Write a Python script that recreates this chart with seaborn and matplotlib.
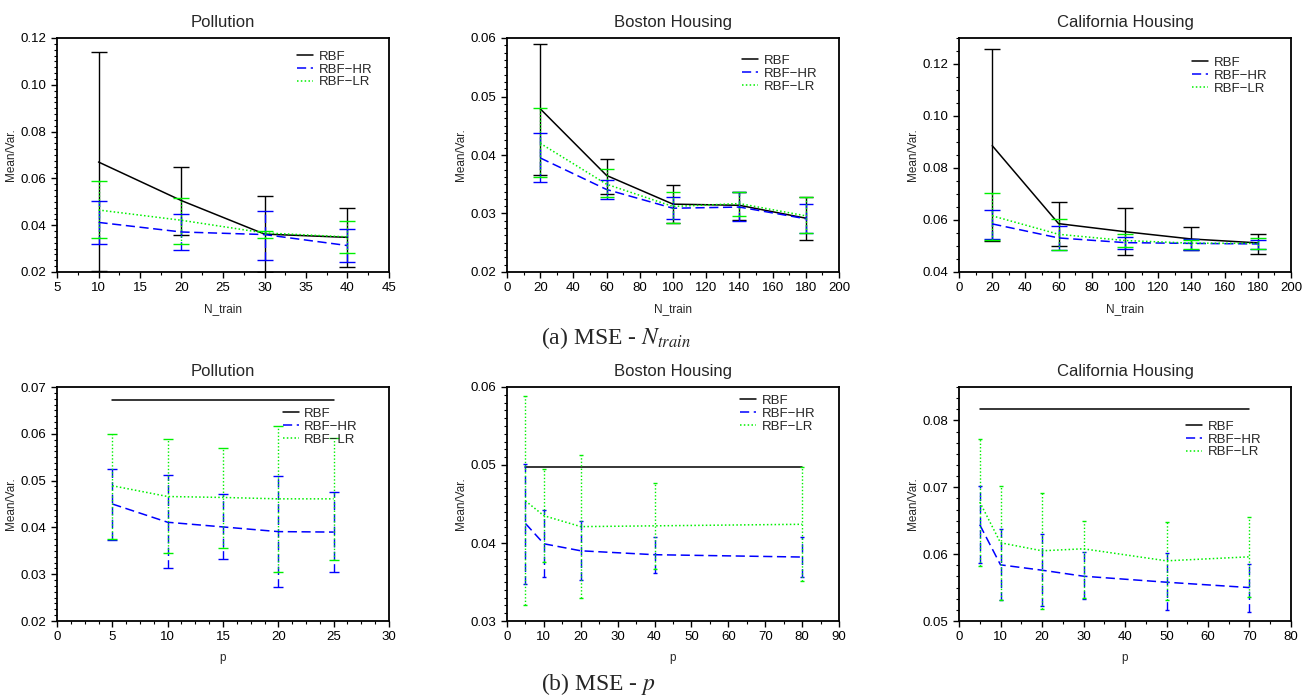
import matplotlib
matplotlib.use("Agg")
import matplotlib.pyplot as plt
import seaborn as sns
import numpy as np
from matplotlib.ticker import AutoMinorLocator, FormatStrFormatter

# --- (a) MSE vs N_train ---
poll_n = [10, 20, 30, 40]
poll_n_rbf = [0.0670, 0.0505, 0.0362, 0.0348]
poll_n_rbf_lo = [0.0206, 0.0357, 0.0200, 0.0223]
poll_n_rbf_hi = [0.1139, 0.0647, 0.0523, 0.0473]
poll_n_hr = [0.0412, 0.0371, 0.0360, 0.0313]
poll_n_hr_lo = [0.0321, 0.0295, 0.0251, 0.0243]
poll_n_hr_hi = [0.0502, 0.0448, 0.0462, 0.0382]
poll_n_lr = [0.0465, 0.0421, 0.0367, 0.0350]
poll_n_lr_lo = [0.0345, 0.0320, 0.0345, 0.0281]
poll_n_lr_hi = [0.0587, 0.0516, 0.0377, 0.0418]

bos_n = [20, 60, 100, 140, 180]
bos_n_rbf = [0.0479, 0.0365, 0.0316, 0.0314, 0.0292]
bos_n_rbf_lo = [0.0366, 0.0334, 0.0283, 0.0289, 0.0255]
bos_n_rbf_hi = [0.0590, 0.0394, 0.0348, 0.0337, 0.0328]
bos_n_hr = [0.0395, 0.0341, 0.0309, 0.0311, 0.0291]
bos_n_hr_lo = [0.0353, 0.0325, 0.0291, 0.0287, 0.0266]
bos_n_hr_hi = [0.0438, 0.0357, 0.0328, 0.0336, 0.0316]
bos_n_lr = [0.0420, 0.0350, 0.0312, 0.0317, 0.0296]
bos_n_lr_lo = [0.0362, 0.0329, 0.0283, 0.0296, 0.0267]
bos_n_lr_hi = [0.0480, 0.0376, 0.0337, 0.0337, 0.0328]

cal_n = [20, 60, 100, 140, 180]
cal_n_rbf = [0.0886, 0.0586, 0.0555, 0.0527, 0.0512]
cal_n_rbf_lo = [0.0521, 0.0499, 0.0465, 0.0484, 0.0469]
cal_n_rbf_hi = [0.1257, 0.0670, 0.0647, 0.0572, 0.0546]
cal_n_hr = [0.0585, 0.0531, 0.0513, 0.0510, 0.0508]
cal_n_hr_lo = [0.0528, 0.0484, 0.0488, 0.0485, 0.0488]
cal_n_hr_hi = [0.0637, 0.0578, 0.0536, 0.0526, 0.0523]
cal_n_lr = [0.0616, 0.0545, 0.0521, 0.0511, 0.0510]
cal_n_lr_lo = [0.0523, 0.0484, 0.0498, 0.0487, 0.0488]
cal_n_lr_hi = [0.0702, 0.0605, 0.0545, 0.0524, 0.0532]

# --- (b) MSE vs p ---
poll_p = [5, 10, 15, 20, 25]
poll_p_rbf = [0.0673, 0.0673, 0.0673, 0.0673, 0.0673]
poll_p_hr = [0.0450, 0.0411, 0.0401, 0.0391, 0.0390]
poll_p_hr_lo = [0.0374, 0.0313, 0.0333, 0.0273, 0.0304]
poll_p_hr_hi = [0.0524, 0.0511, 0.0471, 0.0510, 0.0476]
poll_p_lr = [0.0489, 0.0466, 0.0464, 0.0461, 0.0461]
poll_p_lr_lo = [0.0376, 0.0345, 0.0357, 0.0304, 0.0331]
poll_p_lr_hi = [0.0599, 0.0589, 0.0569, 0.0616, 0.0592]

bos_p = [5, 10, 20, 40, 80]
bos_p_rbf = [0.0497, 0.0497, 0.0497, 0.0497, 0.0497]
bos_p_hr = [0.0425, 0.0399, 0.0390, 0.0385, 0.0382]
bos_p_hr_lo = [0.0348, 0.0356, 0.0352, 0.0362, 0.0356]
bos_p_hr_hi = [0.0501, 0.0442, 0.0428, 0.0408, 0.0408]
bos_p_lr = [0.0454, 0.0435, 0.0421, 0.0422, 0.0424]
bos_p_lr_lo = [0.0321, 0.0376, 0.0329, 0.0367, 0.0351]
bos_p_lr_hi = [0.0589, 0.0495, 0.0513, 0.0477, 0.0497]

cal_p = [5, 10, 20, 30, 50, 70]
cal_p_rbf = [0.0817, 0.0817, 0.0817, 0.0817, 0.0817, 0.0817]
cal_p_hr = [0.0644, 0.0584, 0.0576, 0.0567, 0.0558, 0.0550]
cal_p_hr_lo = [0.0587, 0.0532, 0.0522, 0.0533, 0.0517, 0.0513]
cal_p_hr_hi = [0.0702, 0.0638, 0.0630, 0.0603, 0.0601, 0.0585]
cal_p_lr = [0.0678, 0.0617, 0.0605, 0.0608, 0.0590, 0.0596]
cal_p_lr_lo = [0.0582, 0.0532, 0.0518, 0.0535, 0.0532, 0.0536]
cal_p_lr_hi = [0.0772, 0.0702, 0.0691, 0.0649, 0.0648, 0.0656]

titles = ["Pollution", "Boston Housing", "California Housing"]
methods = ["RBF", "RBF\u2212HR", "RBF\u2212LR"]
colors = ["black", "#0000ff", "#00f000"]
styles = ["-", (0, (6, 3)), (0, (1, 1.5))]

sns.set_style("white")
plt.rcParams["font.family"] = ["Liberation Sans", "DejaVu Sans"]
plt.rcParams["mathtext.fontset"] = "stix"

fig = plt.figure(figsize=(13.03, 6.98), dpi=100)

lefts = [57 / 1303, 507 / 1303, 959 / 1303]
w = 332 / 1303
h = 234 / 698
bottoms = [1 - 272 / 698, 1 - 621 / 698]


def draw_panel(ax, x, series, caps, legend_anchor):
    # series: (mean, lo, hi) per method; lo/hi None -> no error bars
    for (mean, lo, hi), name, c, ls in zip(series, methods, colors, styles):
        sns.lineplot(x=x, y=mean, ax=ax, color=c, linestyle=ls, linewidth=1.1,
                     label=name, errorbar=None, sort=False)
        if lo is not None:
            m = np.array(mean)
            yerr = [m - np.array(lo), np.array(hi) - m]
            eb = ax.errorbar(x, mean, yerr=yerr, fmt="none", ecolor=c,
                             elinewidth=1.0, capsize=caps, capthick=1.0)
            eb.lines[2][0].set_linestyle(ls)
    ax.legend(loc="upper right", bbox_to_anchor=legend_anchor, frameon=False,
              fontsize=9.5, handlelength=1.2, handletextpad=0.4,
              labelspacing=0.05, borderpad=0, borderaxespad=0)


def style_axis(ax, title, xlabel, xlim, xstep, xminor, ylim, ystep, yminor, ytop_tick):
    ax.set_title(title, fontsize=12, pad=8)
    ax.set_xlabel(xlabel, fontsize=8.5, labelpad=6)
    ax.set_ylabel("Mean/Var.", fontsize=8.5, labelpad=3)
    ax.set_xlim(*xlim)
    ax.set_ylim(*ylim)
    ax.set_xticks(np.arange(xlim[0], xlim[1] + 1e-9, xstep))
    ax.set_yticks(np.arange(ylim[0], ytop_tick + 1e-9, ystep))
    ax.xaxis.set_minor_locator(AutoMinorLocator(xminor))
    ax.yaxis.set_minor_locator(AutoMinorLocator(yminor))
    ax.yaxis.set_major_formatter(FormatStrFormatter("%.2f"))
    ax.tick_params(which="both", direction="out", bottom=True, left=True,
                   top=False, right=False, labelsize=9.5, colors="black")
    ax.tick_params(which="major", length=4, width=1)
    ax.tick_params(which="minor", length=2.5, width=0.8)
    for s in ax.spines.values():
        s.set_visible(True)
        s.set_color("black")
        s.set_linewidth(1.3)


# top row
ax = fig.add_axes([lefts[0], bottoms[0], w, h])
draw_panel(ax, poll_n,
           [(poll_n_rbf, poll_n_rbf_lo, poll_n_rbf_hi),
            (poll_n_hr, poll_n_hr_lo, poll_n_hr_hi),
            (poll_n_lr, poll_n_lr_lo, poll_n_lr_hi)], 6, (0.949, 0.947))
style_axis(ax, titles[0], "N_train", (5, 45), 5, 2, (0.02, 0.12), 0.02, 8, 0.12)

ax = fig.add_axes([lefts[1], bottoms[0], w, h])
draw_panel(ax, bos_n,
           [(bos_n_rbf, bos_n_rbf_lo, bos_n_rbf_hi),
            (bos_n_hr, bos_n_hr_lo, bos_n_hr_hi),
            (bos_n_lr, bos_n_lr_lo, bos_n_lr_hi)], 4.8, (0.934, 0.929))
style_axis(ax, titles[1], "N_train", (0, 200), 20, 2, (0.02, 0.06), 0.01, 8, 0.06)

ax = fig.add_axes([lefts[2], bottoms[0], w, h])
draw_panel(ax, cal_n,
           [(cal_n_rbf, cal_n_rbf_lo, cal_n_rbf_hi),
            (cal_n_hr, cal_n_hr_lo, cal_n_hr_hi),
            (cal_n_lr, cal_n_lr_lo, cal_n_lr_hi)], 6, (0.928, 0.921))
style_axis(ax, titles[2], "N_train", (0, 200), 20, 2, (0.04, 0.13), 0.02, 4, 0.12)

# bottom row
ax = fig.add_axes([lefts[0], bottoms[1], w, h])
draw_panel(ax, poll_p,
           [(poll_p_rbf, None, None),
            (poll_p_hr, poll_p_hr_lo, poll_p_hr_hi),
            (poll_p_lr, poll_p_lr_lo, poll_p_lr_hi)], 3.6, (0.906, 0.912))
style_axis(ax, titles[0], "p", (0, 30), 5, 4, (0.02, 0.07), 0.01, 8, 0.07)

ax = fig.add_axes([lefts[1], bottoms[1], w, h])
draw_panel(ax, bos_p,
           [(bos_p_rbf, None, None),
            (bos_p_hr, bos_p_hr_lo, bos_p_hr_hi),
            (bos_p_lr, bos_p_lr_lo, bos_p_lr_hi)], 1.5, (0.928, 0.968))
style_axis(ax, titles[1], "p", (0, 90), 10, 2, (0.03, 0.06), 0.01, 10, 0.06)

ax = fig.add_axes([lefts[2], bottoms[1], w, h])
draw_panel(ax, cal_p,
           [(cal_p_rbf, None, None),
            (cal_p_hr, cal_p_hr_lo, cal_p_hr_hi),
            (cal_p_lr, cal_p_lr_lo, cal_p_lr_hi)], 1.5, (0.91, 0.857))
style_axis(ax, titles[2], "p", (0, 80), 10, 2, (0.05, 0.085), 0.01, 6, 0.08)

# sub-captions
fig.text(541 / 1303, 1 - 338 / 698, r"(a) MSE - $N_{train}$", fontsize=17,
         family="Liberation Serif", ha="left", va="center")
fig.text(541 / 1303, 1 - 684 / 698, r"(b) MSE - $p$", fontsize=17,
         family="Liberation Serif", ha="left", va="center")

fig.savefig("out.png", dpi=100)
